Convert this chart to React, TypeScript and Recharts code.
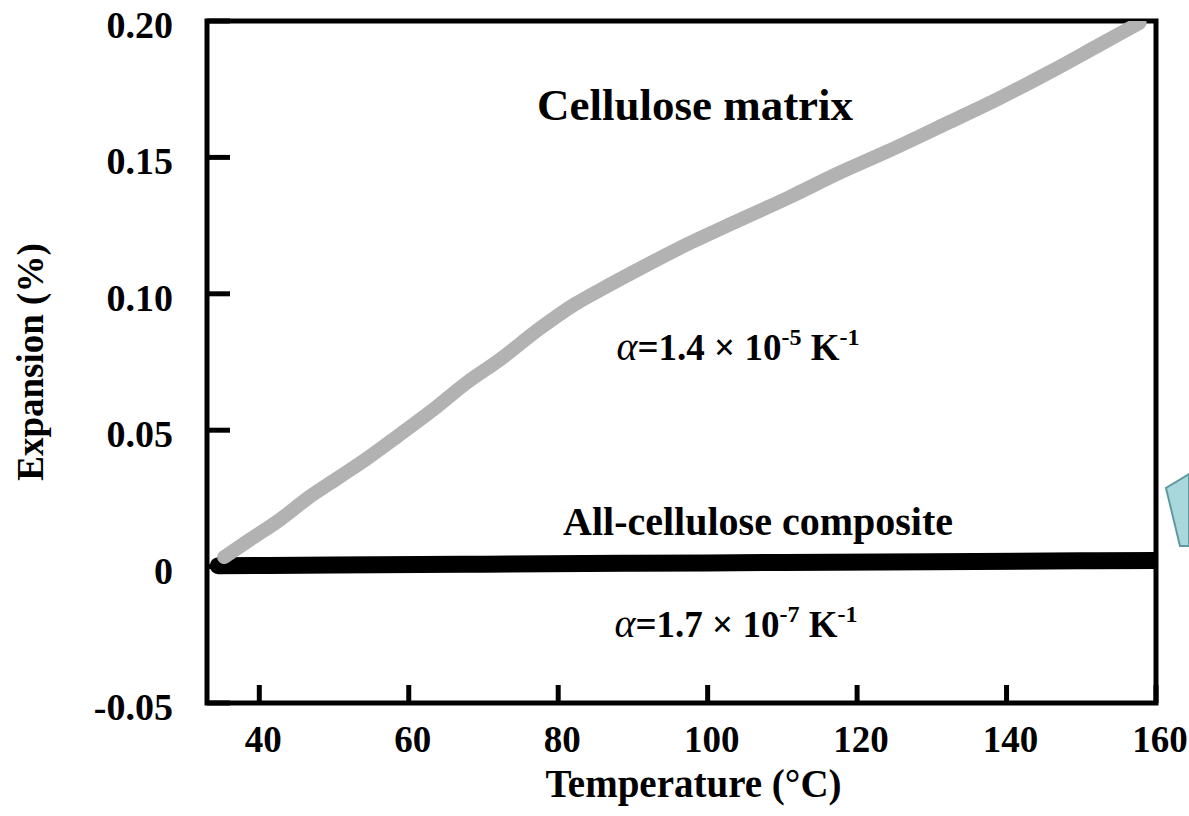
import { LineChart, Line, XAxis, YAxis, ReferenceArea } from "recharts";

// Cellulose matrix (grey) curve
const matrixTemp = [35.3, 38.7, 42.7, 46.7, 50.7, 54.7, 58.7, 63.2, 67.7, 72.1, 77.5, 82, 86, 90.9, 97.6, 104.3, 111.0, 117.6, 123.9, 132.4, 139.1, 145.8, 152.4, 157.8];
const matrixExp = [0.0035, 0.0098, 0.0171, 0.0255, 0.0328, 0.0402, 0.0482, 0.0574, 0.0673, 0.0757, 0.0872, 0.0958, 0.102, 0.1092, 0.1186, 0.1271, 0.1355, 0.1443, 0.152, 0.163, 0.1718, 0.1813, 0.1912, 0.1993];

// All-cellulose composite (black) curve
const compositeTemp = [34.5, 50, 70, 90, 110, 130, 150, 160];
const compositeExp = [0.0003, 0.0006, 0.0009, 0.0012, 0.0015, 0.0018, 0.0021, 0.0022];

const tempTicks = [40, 60, 80, 100, 120, 140, 160];
const expTicks = [-0.05, 0, 0.05, 0.1, 0.15, 0.2];
const expTickLabels = ["-0.05", "0", "0.05", "0.10", "0.15", "0.20"];

const matrixData = matrixTemp.map((t, i) => ({ t, v: matrixExp[i] }));
const compositeData = compositeTemp.map((t, i) => ({ t, v: compositeExp[i] }));

const serif = "'Liberation Serif', 'Times New Roman', serif";

function TempTick({ x, y, payload }: any) {
  return (
    <g>
      <line x1={x} x2={x} y1={y} y2={y - 18} stroke="#000" strokeWidth={5} />
      <text x={x + 4} y={y + 49} textAnchor="middle" fontFamily={serif} fontWeight="bold" fontSize={37} fill="#000">
        {payload.value}
      </text>
    </g>
  );
}

function ExpTick({ x, y, payload, index }: any) {
  return (
    <g>
      <line x1={x} x2={x + 23} y1={y} y2={y} stroke="#000" strokeWidth={5} />
      <text x={x - 34} y={y + 17} textAnchor="end" fontFamily={serif} fontWeight="bold" fontSize={38} fill="#000">
        {expTickLabels[index] ?? payload.value}
      </text>
    </g>
  );
}

function Alpha({ x, y, mant, exp }: { x: number; y: number; mant: string; exp: string }) {
  return (
    <text x={x} y={y} textAnchor="middle" fontFamily={serif} fontWeight="bold" fontSize={37} fill="#000">
      <tspan fontStyle="italic" fontWeight="normal" fontSize={40}>α</tspan>
      <tspan>{"=" + mant + " × 10"}</tspan>
      <tspan dy={-15} fontSize={24}>{exp}</tspan>
      <tspan dy={15}>{" K"}</tspan>
      <tspan dy={-15} fontSize={24}>-1</tspan>
    </text>
  );
}

export default function App() {
  return (
    <div style={{ position: "absolute", left: 0, top: 0, width: 1189, height: 816, background: "#fff" }}>
      <LineChart width={1189} height={816} margin={{ top: 21, right: 33, left: 87, bottom: 53 }}>
        <XAxis
          type="number"
          dataKey="t"
          domain={[33, 160]}
          ticks={tempTicks}
          allowDataOverflow
          axisLine={false}
          tickLine={false}
          tickSize={0}
          tickMargin={0}
          height={60}
          tick={<TempTick />}
          label={{
            value: "Temperature (°C)",
            content: ({ viewBox }: any) => (
              <text x={viewBox.x + viewBox.width / 2 + 12} y={viewBox.y + 94} textAnchor="middle"
                fontFamily={serif} fontWeight="bold" fontSize={39} fill="#000">
                Temperature (°C)
              </text>
            ),
          }}
        />
        <YAxis
          type="number"
          dataKey="v"
          domain={[-0.05, 0.2]}
          ticks={expTicks}
          allowDataOverflow
          axisLine={false}
          tickLine={false}
          tickSize={0}
          tickMargin={0}
          width={120}
          tick={<ExpTick />}
          label={{
            value: "Expansion (%)",
            content: ({ viewBox }: any) => {
              const lx = viewBox.x - 44;
              const ly = viewBox.y + viewBox.height / 2;
              return (
                <text x={lx} y={ly} transform={`rotate(-90, ${lx}, ${ly})`} textAnchor="middle"
                  fontFamily={serif} fontWeight="bold" fontSize={37} fill="#000">
                  Expansion (%)
                </text>
              );
            },
          }}
        />
        <ReferenceArea x1={33} x2={160} y1={-0.05} y2={0.2} fill="none" stroke="#000" strokeWidth={5} ifOverflow="visible" />
        <Line data={compositeData} dataKey="v" type="monotone" stroke="#000" strokeWidth={17}
          dot={false} isAnimationActive={false} strokeLinecap="round" />
        <Line data={matrixData} dataKey="v" type="monotone" stroke="#b2b2b2" strokeWidth={14}
          dot={false} isAnimationActive={false} strokeLinecap="round" />
      </LineChart>
      <svg width={1189} height={816} style={{ position: "absolute", left: 0, top: 0, pointerEvents: "none" }}>
        <text x={695} y={120} textAnchor="middle" fontFamily={serif} fontWeight="bold" fontSize={45} fill="#000">
          Cellulose matrix
        </text>
        <Alpha x={738} y={360} mant="1.4" exp="-5" />
        <text x={758} y={535} textAnchor="middle" fontFamily={serif} fontWeight="bold" fontSize={40} fill="#000">
          All-cellulose composite
        </text>
        <Alpha x={736} y={637} mant="1.7" exp="-7" />
        <polygon points="1189,474 1166,488 1180,546 1189,546" fill="#a9d8dc" stroke="#5f9aa0" strokeWidth={2} />
      </svg>
    </div>
  );
}
